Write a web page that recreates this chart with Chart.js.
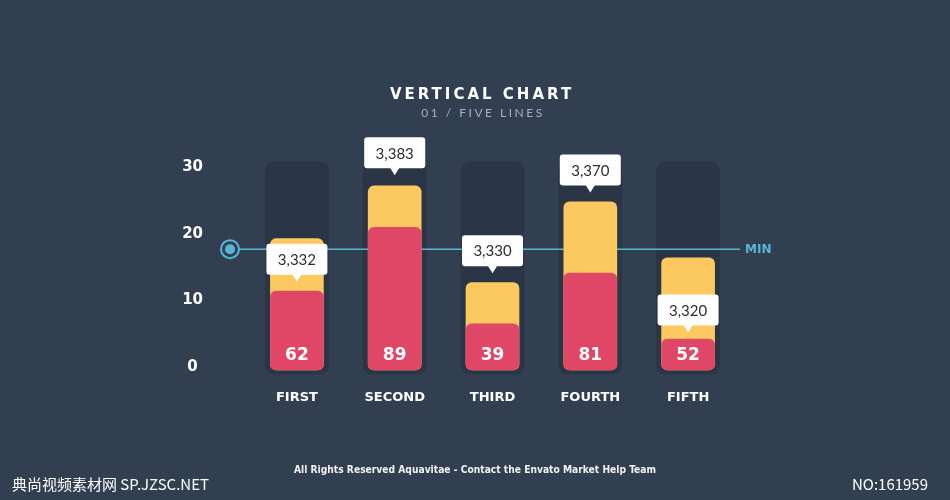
<!DOCTYPE html>
<html>
<head>
<meta charset="utf-8">
<script src="https://cdn.jsdelivr.net/npm/chart.js@4.4.0/dist/chart.umd.min.js"></script>
<style>
  html, body { margin: 0; padding: 0; background: #323f50; }
  canvas { display: block; }
</style>
</head>
<body>
<canvas id="chart" width="950" height="500"></canvas>
<script>
// === DONNEES ===
const categories = ["FIRST", "SECOND", "THIRD", "FOURTH", "FIFTH"];
const yellowValues = [19.3, 27.2, 12.7, 24.8, 16.4];
const redValues = [11.4, 21.0, 6.5, 14.1, 4.2];
const trackValues = [30.8, 30.8, 30.8, 30.8, 30.8];
const redLabels = [62, 89, 39, 81, 52];
const calloutValues = [3332, 3383, 3330, 3370, 3320];
const calloutLevels = [12.8, 28.8, 14.1, 26.2, 5.2];
const minLevel = 17.7;
const yTicks = [0, 10, 20, 30];

// === COULEURS / POLICES ===
const BG = "#323f50";
const TRACK = "#2a3546";
const YELLOW = "#fcc960";
const RED = "#e04767";
const BLUE = "#56b6d8";
const HEAVY = "'DejaVu Sans', sans-serif";

// === DECOR (fond, ligne MIN, bulles, textes) ===
const decor = {
  id: "decor",
  beforeDraw(chart) {
    const ctx = chart.ctx;
    ctx.save();
    ctx.fillStyle = BG;
    ctx.fillRect(0, 0, chart.width, chart.height);
    ctx.restore();
  },
  afterDatasetDraw(chart, args) {
    if (args.index !== 2) return;
    const ctx = chart.ctx;
    const area = chart.chartArea;
    const y = chart.scales.y.getPixelForValue(minLevel);
    const x0 = area.left - 18;
    const x1 = area.right + 3;
    ctx.save();
    ctx.strokeStyle = BLUE;
    ctx.lineWidth = 1.5;
    ctx.beginPath();
    ctx.moveTo(x0, y);
    ctx.lineTo(x1, y);
    ctx.stroke();
    // cercle
    ctx.fillStyle = BG;
    ctx.beginPath();
    ctx.arc(x0, y, 9, 0, Math.PI * 2);
    ctx.fill();
    ctx.lineWidth = 2;
    ctx.stroke();
    ctx.fillStyle = BLUE;
    ctx.beginPath();
    ctx.arc(x0, y, 5, 0, Math.PI * 2);
    ctx.fill();
    // label MIN
    ctx.font = "bold 12px " + HEAVY;
    ctx.textAlign = "left";
    ctx.textBaseline = "middle";
    ctx.fillText("MIN", x1 + 5, y + 1);
    ctx.restore();
  },
  afterDatasetsDraw(chart) {
    const ctx = chart.ctx;
    const xs = chart.scales.x;
    const ys = chart.scales.y;
    ctx.save();
    // valeurs dans les barres rouges
    ctx.fillStyle = "#ffffff";
    ctx.font = "bold 17px " + HEAVY;
    ctx.textAlign = "center";
    ctx.textBaseline = "middle";
    redLabels.forEach((v, i) => {
      ctx.fillText(String(v), xs.getPixelForValue(i), ys.getPixelForValue(0) - 11);
    });
    // bulles
    calloutValues.forEach((v, i) => {
      const cx = xs.getPixelForValue(i);
      const tip = ys.getPixelForValue(calloutLevels[i]);
      const w = 61, h = 31;
      const bottom = tip - 7;
      const top = bottom - h;
      ctx.fillStyle = "#ffffff";
      ctx.beginPath();
      ctx.roundRect(cx - w / 2, top, w, h, 3);
      ctx.fill();
      ctx.beginPath();
      ctx.moveTo(cx - 5, bottom - 1);
      ctx.lineTo(cx + 5, bottom - 1);
      ctx.lineTo(cx, tip);
      ctx.closePath();
      ctx.fill();
      ctx.fillStyle = "#2f2f33";
      ctx.font = "15px Lato";
      ctx.fillText(v.toLocaleString("en-US"), cx, top + h / 2 + 1);
    });
    ctx.restore();
  },
  afterDraw(chart) {
    const ctx = chart.ctx;
    ctx.save();
    ctx.textAlign = "center";
    ctx.textBaseline = "middle";
    ctx.fillStyle = "#ffffff";
    ctx.font = "bold 15px " + HEAVY;
    ctx.letterSpacing = "3px";
    ctx.fillText("VERTICAL CHART", 482, 95);
    ctx.fillStyle = "#a9b1bc";
    ctx.font = "12px Lato";
    ctx.letterSpacing = "2.5px";
    ctx.fillText("01 / FIVE LINES", 483, 113);
    ctx.letterSpacing = "0px";
    ctx.fillStyle = "#f2f2f2";
    ctx.font = "bold 11px 'DejaVu Sans Condensed', 'DejaVu Sans'";
    ctx.fillText("All Rights Reserved Aquavitae - Contact the Envato Market Help Team", 475, 470, 362);
    ctx.textAlign = "left";
    ctx.fillStyle = "#ffffff";
    ctx.font = "15px 'Noto Sans CJK SC'";
    ctx.fillText("典尚视频素材网 SP.JZSC.NET", 12, 484, 216);
    ctx.fillText("NO:161959", 852, 484, 76);
    ctx.restore();
  }
};

// === GRAPHIQUE ===
new Chart(document.getElementById("chart"), {
  type: "bar",
  data: {
    labels: categories,
    datasets: [
      {
        label: "Rouge",
        data: redValues,
        backgroundColor: RED,
        barThickness: 53,
        borderRadius: 6,
        borderSkipped: false,
        base: -0.45,
        grouped: false,
        clip: false
      },
      {
        label: "Jaune",
        data: yellowValues,
        backgroundColor: YELLOW,
        barThickness: 53,
        borderRadius: 6,
        borderSkipped: false,
        base: -0.45,
        grouped: false,
        clip: false
      },
      {
        label: "Fond",
        data: trackValues,
        backgroundColor: TRACK,
        barThickness: 63,
        borderRadius: 9,
        borderSkipped: false,
        base: -1.05,
        grouped: false,
        clip: false
      }
    ]
  },
  options: {
    responsive: false,
    devicePixelRatio: 1,
    animation: false,
    layout: { padding: { left: 178, right: 213, top: 154, bottom: 73 } },
    plugins: { legend: { display: false }, tooltip: { enabled: false } },
    scales: {
      x: {
        grid: { display: false, drawTicks: false },
        border: { display: false },
        ticks: { color: "#ffffff", font: { family: HEAVY, weight: "bold", size: 13 }, padding: 23 },
        afterFit: s => { s.height = 60; }
      },
      y: {
        min: 0,
        max: 32,
        grid: { display: false, drawTicks: false },
        border: { display: false },
        ticks: {
          color: "#ffffff",
          font: { family: HEAVY, weight: "bold", size: 15 },
          crossAlign: "center",
          padding: 45
        },
        afterBuildTicks: s => { s.ticks = yTicks.map(v => ({ value: v })); },
        afterFit: s => { s.width = 70; }
      }
    }
  },
  plugins: [decor]
});
</script>
</body>
</html>
